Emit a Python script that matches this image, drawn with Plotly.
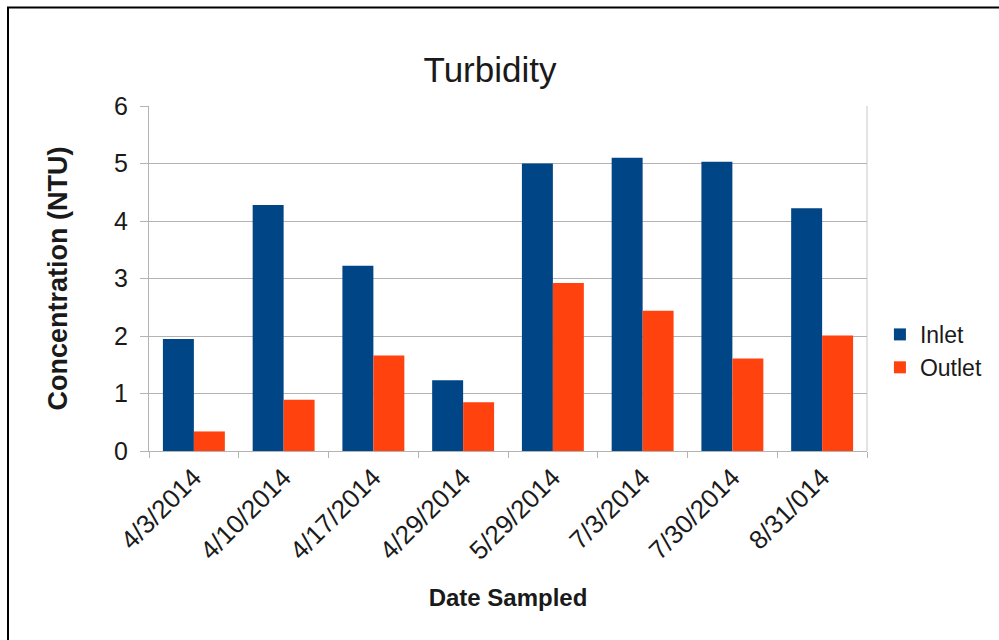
import plotly.graph_objects as go

# Sampling dates and turbidity readings (NTU)
dates = ["4/3/2014", "4/10/2014", "4/17/2014", "4/29/2014",
         "5/29/2014", "7/3/2014", "7/30/2014", "8/31/014"]
inlet = [1.95, 4.28, 3.22, 1.23, 5.00, 5.10, 5.03, 4.22]
outlet = [0.34, 0.89, 1.66, 0.85, 2.92, 2.44, 1.61, 2.01]

FONT = "Liberation Sans, Arial, sans-serif"
INK = "#1a1a1a"

fig = go.Figure()
fig.add_trace(go.Bar(name="Inlet", x=dates, y=inlet, marker_color="#004586",
                     marker_line_width=0))
fig.add_trace(go.Bar(name="Outlet", x=dates, y=outlet, marker_color="#ff420e",
                     marker_line_width=0))

fig.update_layout(
    width=999, height=640,
    margin=dict(l=149, r=132, t=106, b=189, autoexpand=False),
    paper_bgcolor="white", plot_bgcolor="white",
    barmode="group", bargap=0.31, bargroupgap=0,
    font=dict(family=FONT, color=INK),
    title=dict(text="Turbidity", x=0.475, xref="paper", xanchor="center",
               y=1 - 70 / 640, yanchor="middle",
               font=dict(size=35, family=FONT, color=INK)),
    legend=dict(x=1.018, xanchor="left", y=0.29, yanchor="middle",
                font=dict(size=23, family=FONT), itemwidth=30,
                tracegroupgap=2, bgcolor="rgba(0,0,0,0)"),
    showlegend=True,
)

fig.update_xaxes(
    type="category", tickangle=-45, tickfont=dict(size=26, family=FONT),
    showline=True, linecolor="#b3b3b3", linewidth=1,
    ticks="outside", tickson="boundaries", ticklen=6, tickcolor="#b3b3b3",
    showgrid=False,
    title=dict(text="<b>Date Sampled</b>", font=dict(size=24, family=FONT),
               standoff=24),
)
fig.update_yaxes(
    range=[0, 6], dtick=1, tickfont=dict(size=25, family=FONT),
    showline=True, linecolor="#b3b3b3", linewidth=1,
    ticks="outside", ticklen=8, tickcolor="#b3b3b3", ticklabelstandoff=7,
    showgrid=True, gridcolor="#b3b3b3", gridwidth=1, zeroline=False,
    title=dict(text="<b>Concentration (NTU)</b>", font=dict(size=27, family=FONT),
               standoff=38),
)

# Right border of the plot frame
fig.add_shape(type="line", xref="paper", yref="paper", x0=1, x1=1, y0=0, y1=1,
              line=dict(color="#c8c8c8", width=1))

# Outer black frame around the whole chart
fig.add_shape(type="rect", xref="paper", yref="paper",
              x0=(8 - 149) / 718, x1=(1010 - 149) / 718,
              y0=(451 - 660) / 345, y1=(451 - 7.5) / 345,
              line=dict(color="black", width=2), fillcolor="rgba(0,0,0,0)",
              layer="above")

fig.write_html("out.html")
